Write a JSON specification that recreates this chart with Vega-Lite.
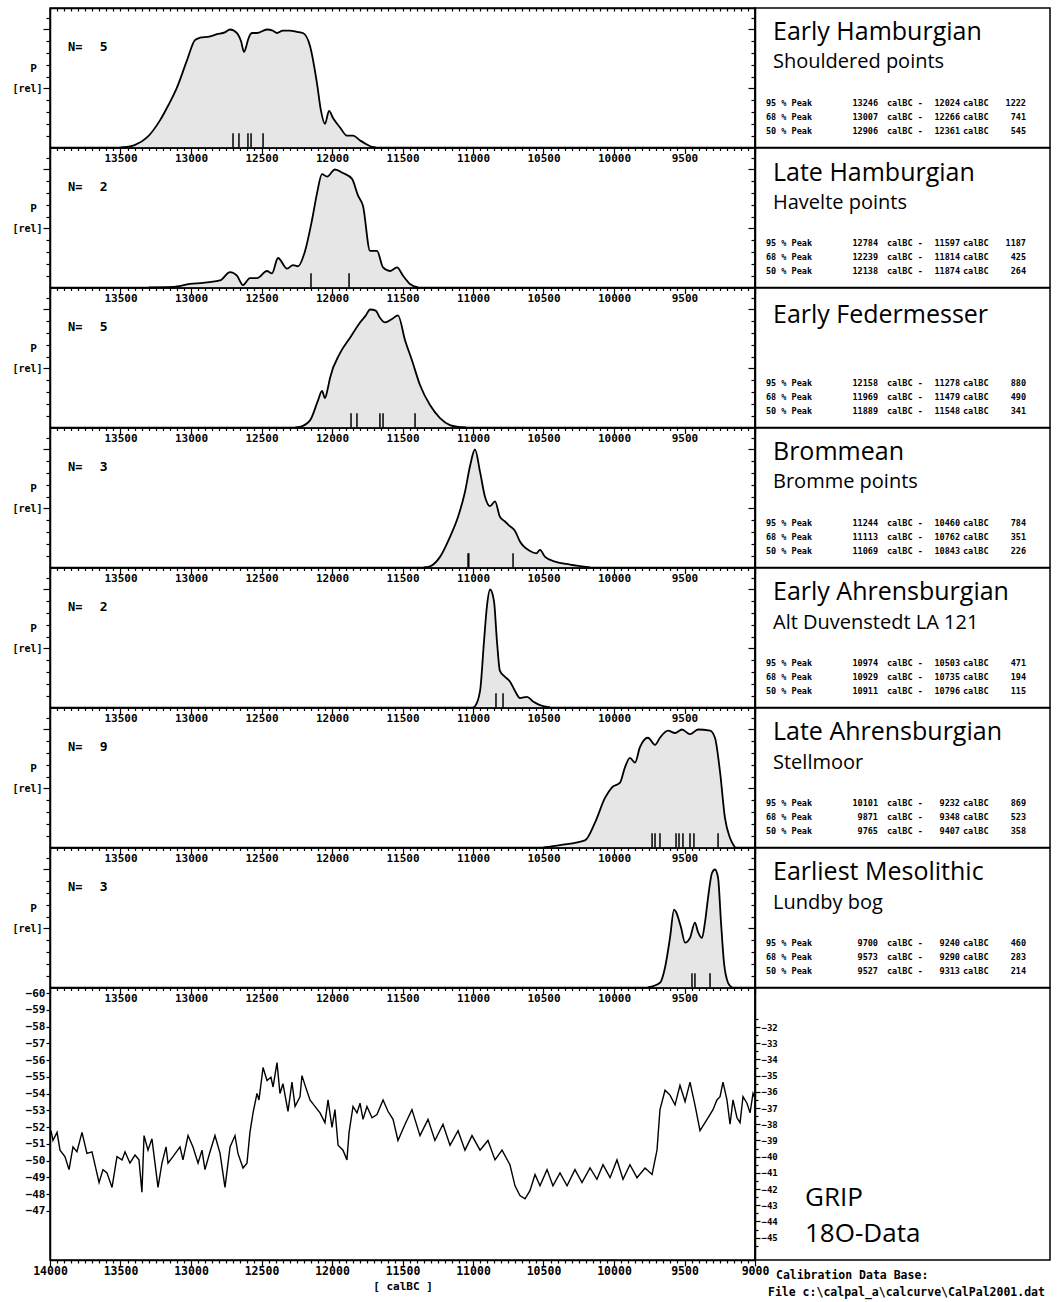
{
"$schema": "https://vega.github.io/schema/vega-lite/v6.json",
"background": "white",
"padding": {"left": 11, "top": 6, "right": 5, "bottom": 5},
"config": {
 "view": {"stroke": "black", "strokeWidth": 1.5},
 "axis": {"domainColor": "black", "domainWidth": 1.5, "tickColor": "black", "tickWidth": 1.2, "labelColor": "black", "labelFont": "DejaVu Sans Mono", "labelFontWeight": "bold", "grid": false, "titleColor": "black"}
},
"datasets": {
 "curves": [
  {"panel":"p1","year":13500,"p":0},{"panel":"p1","year":13454,"p":0.005},{"panel":"p1","year":13400,"p":0.02},{"panel":"p1","year":13312,"p":0.085},{"panel":"p1","year":13220,"p":0.23},{"panel":"p1","year":13160,"p":0.36},{"panel":"p1","year":13099,"p":0.51},{"panel":"p1","year":13028,"p":0.74},{"panel":"p1","year":12972,"p":0.91},{"panel":"p1","year":12936,"p":0.93},{"panel":"p1","year":12870,"p":0.94},{"panel":"p1","year":12816,"p":0.96},{"panel":"p1","year":12760,"p":0.975},{"panel":"p1","year":12723,"p":1.0},{"panel":"p1","year":12674,"p":0.97},{"panel":"p1","year":12645,"p":0.9},{"panel":"p1","year":12624,"p":0.81},{"panel":"p1","year":12605,"p":0.87},{"panel":"p1","year":12596,"p":0.91},{"panel":"p1","year":12567,"p":0.97},{"panel":"p1","year":12532,"p":0.97},{"panel":"p1","year":12461,"p":1.0},{"panel":"p1","year":12420,"p":0.99},{"panel":"p1","year":12390,"p":0.97},{"panel":"p1","year":12348,"p":0.99},{"panel":"p1","year":12300,"p":0.99},{"panel":"p1","year":12248,"p":0.98},{"panel":"p1","year":12206,"p":0.97},{"panel":"p1","year":12156,"p":0.86},{"panel":"p1","year":12106,"p":0.54},{"panel":"p1","year":12078,"p":0.31},{"panel":"p1","year":12050,"p":0.2},{"panel":"p1","year":12021,"p":0.31},{"panel":"p1","year":11993,"p":0.25},{"panel":"p1","year":11943,"p":0.17},{"panel":"p1","year":11894,"p":0.10},{"panel":"p1","year":11851,"p":0.10},{"panel":"p1","year":11801,"p":0.06},{"panel":"p1","year":11752,"p":0.025},{"panel":"p1","year":11716,"p":0.005},{"panel":"p1","year":11690,"p":0},
  {"panel":"p2","year":13300,"p":0},{"panel":"p2","year":13128,"p":0.005},{"panel":"p2","year":13007,"p":0.03},{"panel":"p2","year":12915,"p":0.04},{"panel":"p2","year":12794,"p":0.06},{"panel":"p2","year":12723,"p":0.13},{"panel":"p2","year":12674,"p":0.10},{"panel":"p2","year":12631,"p":0.02},{"panel":"p2","year":12582,"p":0.08},{"panel":"p2","year":12532,"p":0.08},{"panel":"p2","year":12461,"p":0.14},{"panel":"p2","year":12426,"p":0.12},{"panel":"p2","year":12383,"p":0.25},{"panel":"p2","year":12319,"p":0.16},{"panel":"p2","year":12277,"p":0.19},{"panel":"p2","year":12241,"p":0.18},{"panel":"p2","year":12191,"p":0.31},{"panel":"p2","year":12142,"p":0.57},{"panel":"p2","year":12106,"p":0.80},{"panel":"p2","year":12071,"p":0.96},{"panel":"p2","year":12035,"p":0.94},{"panel":"p2","year":11979,"p":1.0},{"panel":"p2","year":11922,"p":0.97},{"panel":"p2","year":11858,"p":0.92},{"panel":"p2","year":11816,"p":0.78},{"panel":"p2","year":11780,"p":0.69},{"panel":"p2","year":11730,"p":0.31},{"panel":"p2","year":11681,"p":0.31},{"panel":"p2","year":11638,"p":0.17},{"panel":"p2","year":11589,"p":0.14},{"panel":"p2","year":11539,"p":0.17},{"panel":"p2","year":11496,"p":0.10},{"panel":"p2","year":11447,"p":0.03},{"panel":"p2","year":11390,"p":0},
  {"panel":"p3","year":12260,"p":0},{"panel":"p3","year":12227,"p":0.005},{"panel":"p3","year":12156,"p":0.06},{"panel":"p3","year":12099,"p":0.23},{"panel":"p3","year":12071,"p":0.31},{"panel":"p3","year":12050,"p":0.25},{"panel":"p3","year":12030,"p":0.33},{"panel":"p3","year":12014,"p":0.42},{"panel":"p3","year":11943,"p":0.63},{"panel":"p3","year":11872,"p":0.76},{"panel":"p3","year":11801,"p":0.89},{"panel":"p3","year":11760,"p":0.95},{"panel":"p3","year":11730,"p":1.0},{"panel":"p3","year":11690,"p":0.99},{"panel":"p3","year":11660,"p":0.93},{"panel":"p3","year":11624,"p":0.89},{"panel":"p3","year":11574,"p":0.92},{"panel":"p3","year":11532,"p":0.95},{"panel":"p3","year":11482,"p":0.74},{"panel":"p3","year":11433,"p":0.57},{"panel":"p3","year":11376,"p":0.36},{"panel":"p3","year":11305,"p":0.19},{"panel":"p3","year":11234,"p":0.08},{"panel":"p3","year":11163,"p":0.02},{"panel":"p3","year":11106,"p":0.005},{"panel":"p3","year":11050,"p":0},
  {"panel":"p4","year":11350,"p":0},{"panel":"p4","year":11305,"p":0.01},{"panel":"p4","year":11234,"p":0.09},{"panel":"p4","year":11163,"p":0.26},{"panel":"p4","year":11106,"p":0.43},{"panel":"p4","year":11057,"p":0.64},{"panel":"p4","year":11021,"p":0.86},{"panel":"p4","year":10986,"p":1.0},{"panel":"p4","year":10950,"p":0.81},{"panel":"p4","year":10915,"p":0.60},{"panel":"p4","year":10879,"p":0.52},{"panel":"p4","year":10844,"p":0.56},{"panel":"p4","year":10809,"p":0.43},{"panel":"p4","year":10773,"p":0.39},{"panel":"p4","year":10738,"p":0.35},{"panel":"p4","year":10702,"p":0.31},{"panel":"p4","year":10667,"p":0.22},{"panel":"p4","year":10596,"p":0.14},{"panel":"p4","year":10550,"p":0.12},{"panel":"p4","year":10525,"p":0.15},{"panel":"p4","year":10489,"p":0.09},{"panel":"p4","year":10418,"p":0.05},{"panel":"p4","year":10312,"p":0.025},{"panel":"p4","year":10170,"p":0},
  {"panel":"p5","year":11000,"p":0},{"panel":"p5","year":10986,"p":0.01},{"panel":"p5","year":10950,"p":0.14},{"panel":"p5","year":10922,"p":0.56},{"panel":"p5","year":10901,"p":0.86},{"panel":"p5","year":10879,"p":1.0},{"panel":"p5","year":10851,"p":0.90},{"panel":"p5","year":10830,"p":0.56},{"panel":"p5","year":10809,"p":0.31},{"panel":"p5","year":10773,"p":0.26},{"panel":"p5","year":10738,"p":0.22},{"panel":"p5","year":10702,"p":0.14},{"panel":"p5","year":10667,"p":0.08},{"panel":"p5","year":10617,"p":0.09},{"panel":"p5","year":10574,"p":0.05},{"panel":"p5","year":10525,"p":0.02},{"panel":"p5","year":10454,"p":0},
  {"panel":"p6","year":10500,"p":0},{"panel":"p6","year":10383,"p":0.02},{"panel":"p6","year":10206,"p":0.06},{"panel":"p6","year":10135,"p":0.21},{"panel":"p6","year":10064,"p":0.42},{"panel":"p6","year":10014,"p":0.51},{"panel":"p6","year":9957,"p":0.55},{"panel":"p6","year":9922,"p":0.68},{"panel":"p6","year":9887,"p":0.76},{"panel":"p6","year":9851,"p":0.72},{"panel":"p6","year":9816,"p":0.85},{"panel":"p6","year":9759,"p":0.93},{"panel":"p6","year":9709,"p":0.87},{"panel":"p6","year":9674,"p":0.93},{"panel":"p6","year":9617,"p":0.99},{"panel":"p6","year":9567,"p":0.97},{"panel":"p6","year":9518,"p":1.0},{"panel":"p6","year":9461,"p":0.96},{"panel":"p6","year":9404,"p":1.0},{"panel":"p6","year":9319,"p":0.99},{"panel":"p6","year":9284,"p":0.93},{"panel":"p6","year":9248,"p":0.64},{"panel":"p6","year":9213,"p":0.25},{"panel":"p6","year":9177,"p":0.08},{"panel":"p6","year":9142,"p":0},
  {"panel":"p7","year":9760,"p":0},{"panel":"p7","year":9674,"p":0.04},{"panel":"p7","year":9638,"p":0.17},{"panel":"p7","year":9603,"p":0.42},{"panel":"p7","year":9574,"p":0.66},{"panel":"p7","year":9560,"p":0.64},{"panel":"p7","year":9525,"p":0.51},{"panel":"p7","year":9496,"p":0.38},{"panel":"p7","year":9461,"p":0.42},{"panel":"p7","year":9426,"p":0.55},{"panel":"p7","year":9404,"p":0.47},{"panel":"p7","year":9376,"p":0.42},{"panel":"p7","year":9355,"p":0.55},{"panel":"p7","year":9333,"p":0.76},{"panel":"p7","year":9305,"p":0.97},{"panel":"p7","year":9284,"p":1.0},{"panel":"p7","year":9262,"p":0.93},{"panel":"p7","year":9241,"p":0.55},{"panel":"p7","year":9220,"p":0.21},{"panel":"p7","year":9191,"p":0.04},{"panel":"p7","year":9163,"p":0}
 ],
 "dates": [
  {"panel":"p1","year":12702},{"panel":"p1","year":12660},{"panel":"p1","year":12596},{"panel":"p1","year":12574},{"panel":"p1","year":12489},
  {"panel":"p2","year":12149},{"panel":"p2","year":11879},
  {"panel":"p3","year":11865},{"panel":"p3","year":11823},{"panel":"p3","year":11660},{"panel":"p3","year":11638},{"panel":"p3","year":11411},
  {"panel":"p4","year":11035},{"panel":"p4","year":11030},{"panel":"p4","year":10716},
  {"panel":"p5","year":10837},{"panel":"p5","year":10787},
  {"panel":"p6","year":9730},{"panel":"p6","year":9709},{"panel":"p6","year":9674},{"panel":"p6","year":9560},{"panel":"p6","year":9539},{"panel":"p6","year":9511},{"panel":"p6","year":9461},{"panel":"p6","year":9433},{"panel":"p6","year":9262},
  {"panel":"p7","year":9447},{"panel":"p7","year":9426},{"panel":"p7","year":9319}
 ],
 "groups": [
  {"panel":"p1","n":5},{"panel":"p2","n":2},{"panel":"p3","n":5},{"panel":"p4","n":3},{"panel":"p5","n":2},{"panel":"p6","n":9},{"panel":"p7","n":3}
 ],
 "labels": [
  {"panel":"p1","kind":"title","text":"Early Hamburgian"},{"panel":"p1","kind":"subtitle","text":"Shouldered points"},
  {"panel":"p2","kind":"title","text":"Late Hamburgian"},{"panel":"p2","kind":"subtitle","text":"Havelte points"},
  {"panel":"p3","kind":"title","text":"Early Federmesser"},
  {"panel":"p4","kind":"title","text":"Brommean"},{"panel":"p4","kind":"subtitle","text":"Bromme points"},
  {"panel":"p5","kind":"title","text":"Early Ahrensburgian"},{"panel":"p5","kind":"subtitle","text":"Alt Duvenstedt LA 121"},
  {"panel":"p6","kind":"title","text":"Late Ahrensburgian"},{"panel":"p6","kind":"subtitle","text":"Stellmoor"},
  {"panel":"p7","kind":"title","text":"Earliest Mesolithic"},{"panel":"p7","kind":"subtitle","text":"Lundby bog"},
  {"panel":"grip","kind":"g1","text":"GRIP"},{"panel":"grip","kind":"g2","text":"18O-Data"},
  {"panel":"grip","kind":"cal1","text":"Calibration Data Base:"},{"panel":"grip","kind":"cal2","text":"File c:\\calpal_a\\calcurve\\CalPal2001.dat"}
 ],
 "stats": [
  {"panel":"p1","level":"95 % Peak","from":13246,"to":12024,"span":1222},{"panel":"p1","level":"68 % Peak","from":13007,"to":12266,"span":741},{"panel":"p1","level":"50 % Peak","from":12906,"to":12361,"span":545},
  {"panel":"p2","level":"95 % Peak","from":12784,"to":11597,"span":1187},{"panel":"p2","level":"68 % Peak","from":12239,"to":11814,"span":425},{"panel":"p2","level":"50 % Peak","from":12138,"to":11874,"span":264},
  {"panel":"p3","level":"95 % Peak","from":12158,"to":11278,"span":880},{"panel":"p3","level":"68 % Peak","from":11969,"to":11479,"span":490},{"panel":"p3","level":"50 % Peak","from":11889,"to":11548,"span":341},
  {"panel":"p4","level":"95 % Peak","from":11244,"to":10460,"span":784},{"panel":"p4","level":"68 % Peak","from":11113,"to":10762,"span":351},{"panel":"p4","level":"50 % Peak","from":11069,"to":10843,"span":226},
  {"panel":"p5","level":"95 % Peak","from":10974,"to":10503,"span":471},{"panel":"p5","level":"68 % Peak","from":10929,"to":10735,"span":194},{"panel":"p5","level":"50 % Peak","from":10911,"to":10796,"span":115},
  {"panel":"p6","level":"95 % Peak","from":10101,"to":9232,"span":869},{"panel":"p6","level":"68 % Peak","from":9871,"to":9348,"span":523},{"panel":"p6","level":"50 % Peak","from":9765,"to":9407,"span":358},
  {"panel":"p7","level":"95 % Peak","from":9700,"to":9240,"span":460},{"panel":"p7","level":"68 % Peak","from":9573,"to":9290,"span":283},{"panel":"p7","level":"50 % Peak","from":9527,"to":9313,"span":214}
 ],
 "grip": [
  {"year":13993,"d18O":-38.4},{"year":13979,"d18O":-39.0},{"year":13950,"d18O":-38.5},{"year":13929,"d18O":-39.6},{"year":13894,"d18O":-40.0},{"year":13865,"d18O":-40.8},{"year":13837,"d18O":-39.4},{"year":13809,"d18O":-39.7},{"year":13773,"d18O":-38.5},{"year":13738,"d18O":-39.8},{"year":13702,"d18O":-39.7},{"year":13652,"d18O":-41.6},{"year":13624,"d18O":-40.8},{"year":13596,"d18O":-41.0},{"year":13560,"d18O":-41.9},{"year":13525,"d18O":-40.0},{"year":13489,"d18O":-40.2},{"year":13468,"d18O":-39.7},{"year":13433,"d18O":-40.4},{"year":13397,"d18O":-39.9},{"year":13369,"d18O":-40.2},{"year":13348,"d18O":-42.2},{"year":13333,"d18O":-38.7},{"year":13305,"d18O":-39.6},{"year":13277,"d18O":-38.9},{"year":13234,"d18O":-41.9},{"year":13206,"d18O":-40.4},{"year":13177,"d18O":-39.4},{"year":13163,"d18O":-40.4},{"year":13128,"d18O":-40.0},{"year":13078,"d18O":-39.4},{"year":13057,"d18O":-40.2},{"year":13021,"d18O":-38.7},{"year":12986,"d18O":-39.4},{"year":12950,"d18O":-40.4},{"year":12922,"d18O":-39.6},{"year":12901,"d18O":-40.8},{"year":12865,"d18O":-39.7},{"year":12830,"d18O":-38.7},{"year":12794,"d18O":-39.8},{"year":12759,"d18O":-41.9},{"year":12723,"d18O":-39.4},{"year":12688,"d18O":-38.7},{"year":12667,"d18O":-39.8},{"year":12631,"d18O":-40.7},{"year":12603,"d18O":-40.4},{"year":12582,"d18O":-38.5},{"year":12560,"d18O":-37.3},{"year":12532,"d18O":-36.1},{"year":12518,"d18O":-36.5},{"year":12489,"d18O":-34.5},{"year":12461,"d18O":-35.3},{"year":12433,"d18O":-35.1},{"year":12418,"d18O":-35.7},{"year":12390,"d18O":-34.2},{"year":12369,"d18O":-36.1},{"year":12348,"d18O":-35.5},{"year":12312,"d18O":-37.2},{"year":12284,"d18O":-35.4},{"year":12262,"d18O":-36.9},{"year":12227,"d18O":-36.3},{"year":12213,"d18O":-35.0},{"year":12191,"d18O":-35.6},{"year":12156,"d18O":-36.5},{"year":12121,"d18O":-36.9},{"year":12085,"d18O":-37.3},{"year":12050,"d18O":-37.9},{"year":12028,"d18O":-36.5},{"year":12000,"d18O":-38.2},{"year":11979,"d18O":-37.1},{"year":11957,"d18O":-39.3},{"year":11922,"d18O":-39.6},{"year":11894,"d18O":-40.2},{"year":11879,"d18O":-38.5},{"year":11851,"d18O":-36.9},{"year":11823,"d18O":-37.3},{"year":11801,"d18O":-36.7},{"year":11780,"d18O":-37.7},{"year":11752,"d18O":-36.9},{"year":11716,"d18O":-37.6},{"year":11681,"d18O":-37.4},{"year":11638,"d18O":-36.5},{"year":11603,"d18O":-37.2},{"year":11567,"d18O":-37.7},{"year":11532,"d18O":-39.0},{"year":11482,"d18O":-38.0},{"year":11433,"d18O":-37.1},{"year":11376,"d18O":-38.7},{"year":11319,"d18O":-37.7},{"year":11270,"d18O":-39.0},{"year":11213,"d18O":-38.0},{"year":11163,"d18O":-39.3},{"year":11106,"d18O":-38.4},{"year":11057,"d18O":-39.6},{"year":11007,"d18O":-38.7},{"year":10950,"d18O":-39.6},{"year":10894,"d18O":-39.0},{"year":10844,"d18O":-40.2},{"year":10794,"d18O":-39.6},{"year":10738,"d18O":-40.5},{"year":10702,"d18O":-41.8},{"year":10667,"d18O":-42.4},{"year":10631,"d18O":-42.6},{"year":10596,"d18O":-42.1},{"year":10560,"d18O":-41.1},{"year":10525,"d18O":-41.8},{"year":10475,"d18O":-40.8},{"year":10433,"d18O":-41.8},{"year":10383,"d18O":-41.0},{"year":10333,"d18O":-41.8},{"year":10277,"d18O":-40.8},{"year":10227,"d18O":-41.6},{"year":10170,"d18O":-40.7},{"year":10121,"d18O":-41.4},{"year":10078,"d18O":-40.5},{"year":10028,"d18O":-41.3},{"year":9979,"d18O":-40.2},{"year":9936,"d18O":-41.4},{"year":9887,"d18O":-40.5},{"year":9837,"d18O":-41.3},{"year":9780,"d18O":-40.7},{"year":9730,"d18O":-41.1},{"year":9695,"d18O":-39.6},{"year":9674,"d18O":-37.1},{"year":9638,"d18O":-35.9},{"year":9603,"d18O":-36.2},{"year":9567,"d18O":-36.8},{"year":9532,"d18O":-35.6},{"year":9496,"d18O":-36.6},{"year":9461,"d18O":-35.4},{"year":9426,"d18O":-36.8},{"year":9390,"d18O":-38.4},{"year":9340,"d18O":-37.7},{"year":9298,"d18O":-37.1},{"year":9270,"d18O":-36.5},{"year":9248,"d18O":-36.3},{"year":9227,"d18O":-35.4},{"year":9199,"d18O":-36.5},{"year":9177,"d18O":-38.0},{"year":9156,"d18O":-36.5},{"year":9128,"d18O":-37.6},{"year":9106,"d18O":-37.9},{"year":9085,"d18O":-36.3},{"year":9057,"d18O":-36.7},{"year":9035,"d18O":-37.3},{"year":9014,"d18O":-36.1},{"year":9000,"d18O":-36.4}
 ]
},
"columns": 2,
"spacing": 0,
"bounds": "flush",
"align": "each",
"concat": [
 {"width": 705, "height": 139.5,
  "layer": [
   {"data": {"name": "curves"}, "transform": [{"filter": "datum.panel == 'p1'"}], "mark": {"type": "area", "color": "#e6e6e6", "interpolate": "monotone"},
    "encoding": {"x": {"field": "year", "type": "quantitative", "scale": {"domain": [9000, 14000], "reverse": true, "nice": false, "zero": false}, "axis": {"orient": "bottom", "tickCount": 100, "format": "d", "labelExpr": "datum.value % 500 == 0 && datum.value > 9000 && datum.value < 14000 ? datum.label : ''", "tickSize": {"condition": {"test": "datum.value % 500 == 0", "value": 6}, "value": 3}, "labelOverlap": false, "labelFlush": false, "labelBound": false, "labelPadding": -1, "labelFontSize": 11, "title": null}},
     "y": {"field": "p", "type": "quantitative", "scale": {"domain": [0, 1.182], "nice": false, "zero": false}, "axis": {"orient": "left", "values": [0.1,0.2,0.3,0.4,0.5,0.6,0.7,0.8,0.9,1,1.1], "labelExpr": "datum.value == 0.5 ? '[rel]' : ''", "tickSize": {"condition": {"test": "datum.value == 0.5 || datum.value == 1", "value": 7}, "value": 4}, "labelPadding": 1, "labelFontSize": 10, "labelOverlap": false, "title": "P", "titleAngle": 0, "titleAlign": "center", "titleBaseline": "middle", "titleX": -17, "titleY": 60, "titleFont": "DejaVu Sans Mono", "titleFontWeight": "bold", "titleFontSize": 11}}}},
   {"data": {"name": "curves"}, "transform": [{"filter": "datum.panel == 'p1'"}], "mark": {"type": "line", "color": "black", "strokeWidth": 1.8, "interpolate": "monotone"},
    "encoding": {"x": {"field": "year", "type": "quantitative", "axis": {"orient": "top", "tickCount": 100, "labels": false, "tickSize": -3, "title": null}},
     "y": {"field": "p", "type": "quantitative", "axis": {"orient": "right", "values": [0.1,0.2,0.3,0.4,0.5,0.6,0.7,0.8,0.9,1,1.1], "labels": false, "tickSize": {"condition": {"test": "datum.value == 0.5 || datum.value == 1", "value": -7}, "value": -4}, "title": null}}}},
   {"data": {"name": "dates"}, "transform": [{"filter": "datum.panel == 'p1'"}], "mark": {"type": "rule", "color": "black", "strokeWidth": 1.5},
    "encoding": {"x": {"field": "year", "type": "quantitative", "axis": null}, "y": {"datum": 0, "axis": null}, "y2": {"datum": 0.12}}},
   {"data": {"name": "groups"}, "transform": [{"filter": "datum.panel == 'p1'"}], "mark": {"type": "text", "font": "DejaVu Sans Mono", "fontWeight": "bold", "fontSize": 12, "align": "left", "baseline": "middle"},
    "encoding": {"x": {"datum": 13872, "axis": null}, "y": {"datum": 0.85, "axis": null}, "text": {"value": "N="}}},
   {"data": {"name": "groups"}, "transform": [{"filter": "datum.panel == 'p1'"}], "mark": {"type": "text", "font": "DejaVu Sans Mono", "fontWeight": "bold", "fontSize": 13, "align": "center", "baseline": "middle"},
    "encoding": {"x": {"datum": 13620, "axis": null}, "y": {"datum": 0.85, "axis": null}, "text": {"field": "n", "type": "quantitative", "format": "d"}}}
  ],
  "resolve": {"axis": {"x": "independent", "y": "independent"}}},
 {"width": 295, "height": 139.5,
  "layer": [
   {"data": {"name": "labels"}, "transform": [{"filter": "datum.panel == 'p1'"}], "mark": {"type": "text", "font": "Open Sans", "align": "left", "baseline": "alphabetic", "color": "black"},
    "encoding": {"x": {"datum": 18, "type": "quantitative", "scale": {"domain": [0, 295], "nice": false, "zero": false}, "axis": null}, "y": {"field": "kind", "type": "ordinal", "scale": {"type": "point", "domain": ["title", "subtitle"], "range": [32, 60], "padding": 0}, "axis": null}, "size": {"condition": {"test": "datum.kind == 'title'", "value": 25}, "value": 20}, "text": {"field": "text"}}},
   {"data": {"name": "stats"}, "transform": [{"filter": "datum.panel == 'p1'"}], "mark": {"type": "text", "font": "DejaVu Sans Mono", "fontWeight": "bold", "fontSize": 8.5, "align": "left", "baseline": "middle"},
    "encoding": {"x": {"datum": 11, "axis": null}, "y": {"field": "level", "type": "ordinal", "scale": {"type": "point", "domain": ["95 % Peak", "68 % Peak", "50 % Peak"], "range": [95, 123], "padding": 0}, "axis": null}, "text": {"field": "level"}}},
   {"data": {"name": "stats"}, "transform": [{"filter": "datum.panel == 'p1'"}], "mark": {"type": "text", "font": "DejaVu Sans Mono", "fontWeight": "bold", "fontSize": 8.5, "align": "right", "baseline": "middle"},
    "encoding": {"x": {"datum": 123, "axis": null}, "y": {"field": "level", "type": "ordinal", "scale": {"type": "point", "domain": ["95 % Peak", "68 % Peak", "50 % Peak"], "range": [95, 123], "padding": 0}, "axis": null}, "text": {"field": "from", "type": "quantitative", "format": "d"}}},
   {"data": {"name": "stats"}, "transform": [{"filter": "datum.panel == 'p1'"}], "mark": {"type": "text", "font": "DejaVu Sans Mono", "fontWeight": "bold", "fontSize": 8.5, "align": "left", "baseline": "middle"},
    "encoding": {"x": {"datum": 132, "axis": null}, "y": {"field": "level", "type": "ordinal", "scale": {"type": "point", "domain": ["95 % Peak", "68 % Peak", "50 % Peak"], "range": [95, 123], "padding": 0}, "axis": null}, "text": {"value": "calBC  -"}}},
   {"data": {"name": "stats"}, "transform": [{"filter": "datum.panel == 'p1'"}], "mark": {"type": "text", "font": "DejaVu Sans Mono", "fontWeight": "bold", "fontSize": 8.5, "align": "right", "baseline": "middle"},
    "encoding": {"x": {"datum": 205, "axis": null}, "y": {"field": "level", "type": "ordinal", "scale": {"type": "point", "domain": ["95 % Peak", "68 % Peak", "50 % Peak"], "range": [95, 123], "padding": 0}, "axis": null}, "text": {"field": "to", "type": "quantitative", "format": "d"}}},
   {"data": {"name": "stats"}, "transform": [{"filter": "datum.panel == 'p1'"}], "mark": {"type": "text", "font": "DejaVu Sans Mono", "fontWeight": "bold", "fontSize": 8.5, "align": "left", "baseline": "middle"},
    "encoding": {"x": {"datum": 208, "axis": null}, "y": {"field": "level", "type": "ordinal", "scale": {"type": "point", "domain": ["95 % Peak", "68 % Peak", "50 % Peak"], "range": [95, 123], "padding": 0}, "axis": null}, "text": {"value": "calBC"}}},
   {"data": {"name": "stats"}, "transform": [{"filter": "datum.panel == 'p1'"}], "mark": {"type": "text", "font": "DejaVu Sans Mono", "fontWeight": "bold", "fontSize": 8.5, "align": "right", "baseline": "middle"},
    "encoding": {"x": {"datum": 271, "axis": null}, "y": {"field": "level", "type": "ordinal", "scale": {"type": "point", "domain": ["95 % Peak", "68 % Peak", "50 % Peak"], "range": [95, 123], "padding": 0}, "axis": null}, "text": {"field": "span", "type": "quantitative", "format": "d"}}}
  ],
  "resolve": {"scale": {"y": "independent"}}},

 {"width": 705, "height": 139.5,
  "layer": [
   {"data": {"name": "curves"}, "transform": [{"filter": "datum.panel == 'p2'"}], "mark": {"type": "area", "color": "#e6e6e6", "interpolate": "monotone"},
    "encoding": {"x": {"field": "year", "type": "quantitative", "scale": {"domain": [9000, 14000], "reverse": true, "nice": false, "zero": false}, "axis": {"orient": "bottom", "tickCount": 100, "format": "d", "labelExpr": "datum.value % 500 == 0 && datum.value > 9000 && datum.value < 14000 ? datum.label : ''", "tickSize": {"condition": {"test": "datum.value % 500 == 0", "value": 6}, "value": 3}, "labelOverlap": false, "labelFlush": false, "labelBound": false, "labelPadding": -1, "labelFontSize": 11, "title": null}},
     "y": {"field": "p", "type": "quantitative", "scale": {"domain": [0, 1.182], "nice": false, "zero": false}, "axis": {"orient": "left", "values": [0.1,0.2,0.3,0.4,0.5,0.6,0.7,0.8,0.9,1,1.1], "labelExpr": "datum.value == 0.5 ? '[rel]' : ''", "tickSize": {"condition": {"test": "datum.value == 0.5 || datum.value == 1", "value": 7}, "value": 4}, "labelPadding": 1, "labelFontSize": 10, "labelOverlap": false, "title": "P", "titleAngle": 0, "titleAlign": "center", "titleBaseline": "middle", "titleX": -17, "titleY": 60, "titleFont": "DejaVu Sans Mono", "titleFontWeight": "bold", "titleFontSize": 11}}}},
   {"data": {"name": "curves"}, "transform": [{"filter": "datum.panel == 'p2'"}], "mark": {"type": "line", "color": "black", "strokeWidth": 1.8, "interpolate": "monotone"},
    "encoding": {"x": {"field": "year", "type": "quantitative", "axis": null},
     "y": {"field": "p", "type": "quantitative", "axis": {"orient": "right", "values": [0.1,0.2,0.3,0.4,0.5,0.6,0.7,0.8,0.9,1,1.1], "labels": false, "tickSize": {"condition": {"test": "datum.value == 0.5 || datum.value == 1", "value": -7}, "value": -4}, "title": null}}}},
   {"data": {"name": "dates"}, "transform": [{"filter": "datum.panel == 'p2'"}], "mark": {"type": "rule", "color": "black", "strokeWidth": 1.5},
    "encoding": {"x": {"field": "year", "type": "quantitative", "axis": null}, "y": {"datum": 0, "axis": null}, "y2": {"datum": 0.12}}},
   {"data": {"name": "groups"}, "transform": [{"filter": "datum.panel == 'p2'"}], "mark": {"type": "text", "font": "DejaVu Sans Mono", "fontWeight": "bold", "fontSize": 12, "align": "left", "baseline": "middle"},
    "encoding": {"x": {"datum": 13872, "axis": null}, "y": {"datum": 0.85, "axis": null}, "text": {"value": "N="}}},
   {"data": {"name": "groups"}, "transform": [{"filter": "datum.panel == 'p2'"}], "mark": {"type": "text", "font": "DejaVu Sans Mono", "fontWeight": "bold", "fontSize": 13, "align": "center", "baseline": "middle"},
    "encoding": {"x": {"datum": 13620, "axis": null}, "y": {"datum": 0.85, "axis": null}, "text": {"field": "n", "type": "quantitative", "format": "d"}}}
  ],
  "resolve": {"axis": {"x": "independent", "y": "independent"}}},
 {"width": 295, "height": 139.5,
  "layer": [
   {"data": {"name": "labels"}, "transform": [{"filter": "datum.panel == 'p2'"}], "mark": {"type": "text", "font": "Open Sans", "align": "left", "baseline": "alphabetic", "color": "black"},
    "encoding": {"x": {"datum": 18, "type": "quantitative", "scale": {"domain": [0, 295], "nice": false, "zero": false}, "axis": null}, "y": {"field": "kind", "type": "ordinal", "scale": {"type": "point", "domain": ["title", "subtitle"], "range": [33, 61], "padding": 0}, "axis": null}, "size": {"condition": {"test": "datum.kind == 'title'", "value": 25}, "value": 20}, "text": {"field": "text"}}},
   {"data": {"name": "stats"}, "transform": [{"filter": "datum.panel == 'p2'"}], "mark": {"type": "text", "font": "DejaVu Sans Mono", "fontWeight": "bold", "fontSize": 8.5, "align": "left", "baseline": "middle"},
    "encoding": {"x": {"datum": 11, "axis": null}, "y": {"field": "level", "type": "ordinal", "scale": {"type": "point", "domain": ["95 % Peak", "68 % Peak", "50 % Peak"], "range": [95, 123], "padding": 0}, "axis": null}, "text": {"field": "level"}}},
   {"data": {"name": "stats"}, "transform": [{"filter": "datum.panel == 'p2'"}], "mark": {"type": "text", "font": "DejaVu Sans Mono", "fontWeight": "bold", "fontSize": 8.5, "align": "right", "baseline": "middle"},
    "encoding": {"x": {"datum": 123, "axis": null}, "y": {"field": "level", "type": "ordinal", "scale": {"type": "point", "domain": ["95 % Peak", "68 % Peak", "50 % Peak"], "range": [95, 123], "padding": 0}, "axis": null}, "text": {"field": "from", "type": "quantitative", "format": "d"}}},
   {"data": {"name": "stats"}, "transform": [{"filter": "datum.panel == 'p2'"}], "mark": {"type": "text", "font": "DejaVu Sans Mono", "fontWeight": "bold", "fontSize": 8.5, "align": "left", "baseline": "middle"},
    "encoding": {"x": {"datum": 132, "axis": null}, "y": {"field": "level", "type": "ordinal", "scale": {"type": "point", "domain": ["95 % Peak", "68 % Peak", "50 % Peak"], "range": [95, 123], "padding": 0}, "axis": null}, "text": {"value": "calBC  -"}}},
   {"data": {"name": "stats"}, "transform": [{"filter": "datum.panel == 'p2'"}], "mark": {"type": "text", "font": "DejaVu Sans Mono", "fontWeight": "bold", "fontSize": 8.5, "align": "right", "baseline": "middle"},
    "encoding": {"x": {"datum": 205, "axis": null}, "y": {"field": "level", "type": "ordinal", "scale": {"type": "point", "domain": ["95 % Peak", "68 % Peak", "50 % Peak"], "range": [95, 123], "padding": 0}, "axis": null}, "text": {"field": "to", "type": "quantitative", "format": "d"}}},
   {"data": {"name": "stats"}, "transform": [{"filter": "datum.panel == 'p2'"}], "mark": {"type": "text", "font": "DejaVu Sans Mono", "fontWeight": "bold", "fontSize": 8.5, "align": "left", "baseline": "middle"},
    "encoding": {"x": {"datum": 208, "axis": null}, "y": {"field": "level", "type": "ordinal", "scale": {"type": "point", "domain": ["95 % Peak", "68 % Peak", "50 % Peak"], "range": [95, 123], "padding": 0}, "axis": null}, "text": {"value": "calBC"}}},
   {"data": {"name": "stats"}, "transform": [{"filter": "datum.panel == 'p2'"}], "mark": {"type": "text", "font": "DejaVu Sans Mono", "fontWeight": "bold", "fontSize": 8.5, "align": "right", "baseline": "middle"},
    "encoding": {"x": {"datum": 271, "axis": null}, "y": {"field": "level", "type": "ordinal", "scale": {"type": "point", "domain": ["95 % Peak", "68 % Peak", "50 % Peak"], "range": [95, 123], "padding": 0}, "axis": null}, "text": {"field": "span", "type": "quantitative", "format": "d"}}}
  ],
  "resolve": {"scale": {"y": "independent"}}},

 {"width": 705, "height": 139.5,
  "layer": [
   {"data": {"name": "curves"}, "transform": [{"filter": "datum.panel == 'p3'"}], "mark": {"type": "area", "color": "#e6e6e6", "interpolate": "monotone"},
    "encoding": {"x": {"field": "year", "type": "quantitative", "scale": {"domain": [9000, 14000], "reverse": true, "nice": false, "zero": false}, "axis": {"orient": "bottom", "tickCount": 100, "format": "d", "labelExpr": "datum.value % 500 == 0 && datum.value > 9000 && datum.value < 14000 ? datum.label : ''", "tickSize": {"condition": {"test": "datum.value % 500 == 0", "value": 6}, "value": 3}, "labelOverlap": false, "labelFlush": false, "labelBound": false, "labelPadding": -1, "labelFontSize": 11, "title": null}},
     "y": {"field": "p", "type": "quantitative", "scale": {"domain": [0, 1.182], "nice": false, "zero": false}, "axis": {"orient": "left", "values": [0.1,0.2,0.3,0.4,0.5,0.6,0.7,0.8,0.9,1,1.1], "labelExpr": "datum.value == 0.5 ? '[rel]' : ''", "tickSize": {"condition": {"test": "datum.value == 0.5 || datum.value == 1", "value": 7}, "value": 4}, "labelPadding": 1, "labelFontSize": 10, "labelOverlap": false, "title": "P", "titleAngle": 0, "titleAlign": "center", "titleBaseline": "middle", "titleX": -17, "titleY": 60, "titleFont": "DejaVu Sans Mono", "titleFontWeight": "bold", "titleFontSize": 11}}}},
   {"data": {"name": "curves"}, "transform": [{"filter": "datum.panel == 'p3'"}], "mark": {"type": "line", "color": "black", "strokeWidth": 1.8, "interpolate": "monotone"},
    "encoding": {"x": {"field": "year", "type": "quantitative", "axis": null},
     "y": {"field": "p", "type": "quantitative", "axis": {"orient": "right", "values": [0.1,0.2,0.3,0.4,0.5,0.6,0.7,0.8,0.9,1,1.1], "labels": false, "tickSize": {"condition": {"test": "datum.value == 0.5 || datum.value == 1", "value": -7}, "value": -4}, "title": null}}}},
   {"data": {"name": "dates"}, "transform": [{"filter": "datum.panel == 'p3'"}], "mark": {"type": "rule", "color": "black", "strokeWidth": 1.5},
    "encoding": {"x": {"field": "year", "type": "quantitative", "axis": null}, "y": {"datum": 0, "axis": null}, "y2": {"datum": 0.12}}},
   {"data": {"name": "groups"}, "transform": [{"filter": "datum.panel == 'p3'"}], "mark": {"type": "text", "font": "DejaVu Sans Mono", "fontWeight": "bold", "fontSize": 12, "align": "left", "baseline": "middle"},
    "encoding": {"x": {"datum": 13872, "axis": null}, "y": {"datum": 0.85, "axis": null}, "text": {"value": "N="}}},
   {"data": {"name": "groups"}, "transform": [{"filter": "datum.panel == 'p3'"}], "mark": {"type": "text", "font": "DejaVu Sans Mono", "fontWeight": "bold", "fontSize": 13, "align": "center", "baseline": "middle"},
    "encoding": {"x": {"datum": 13620, "axis": null}, "y": {"datum": 0.85, "axis": null}, "text": {"field": "n", "type": "quantitative", "format": "d"}}}
  ],
  "resolve": {"axis": {"x": "independent", "y": "independent"}}},
 {"width": 295, "height": 139.5,
  "layer": [
   {"data": {"name": "labels"}, "transform": [{"filter": "datum.panel == 'p3'"}], "mark": {"type": "text", "font": "Open Sans", "align": "left", "baseline": "alphabetic", "color": "black"},
    "encoding": {"x": {"datum": 18, "type": "quantitative", "scale": {"domain": [0, 295], "nice": false, "zero": false}, "axis": null}, "y": {"field": "kind", "type": "ordinal", "scale": {"type": "point", "domain": ["title", "subtitle"], "range": [35, 63], "padding": 0}, "axis": null}, "size": {"condition": {"test": "datum.kind == 'title'", "value": 25}, "value": 20}, "text": {"field": "text"}}},
   {"data": {"name": "stats"}, "transform": [{"filter": "datum.panel == 'p3'"}], "mark": {"type": "text", "font": "DejaVu Sans Mono", "fontWeight": "bold", "fontSize": 8.5, "align": "left", "baseline": "middle"},
    "encoding": {"x": {"datum": 11, "axis": null}, "y": {"field": "level", "type": "ordinal", "scale": {"type": "point", "domain": ["95 % Peak", "68 % Peak", "50 % Peak"], "range": [95, 123], "padding": 0}, "axis": null}, "text": {"field": "level"}}},
   {"data": {"name": "stats"}, "transform": [{"filter": "datum.panel == 'p3'"}], "mark": {"type": "text", "font": "DejaVu Sans Mono", "fontWeight": "bold", "fontSize": 8.5, "align": "right", "baseline": "middle"},
    "encoding": {"x": {"datum": 123, "axis": null}, "y": {"field": "level", "type": "ordinal", "scale": {"type": "point", "domain": ["95 % Peak", "68 % Peak", "50 % Peak"], "range": [95, 123], "padding": 0}, "axis": null}, "text": {"field": "from", "type": "quantitative", "format": "d"}}},
   {"data": {"name": "stats"}, "transform": [{"filter": "datum.panel == 'p3'"}], "mark": {"type": "text", "font": "DejaVu Sans Mono", "fontWeight": "bold", "fontSize": 8.5, "align": "left", "baseline": "middle"},
    "encoding": {"x": {"datum": 132, "axis": null}, "y": {"field": "level", "type": "ordinal", "scale": {"type": "point", "domain": ["95 % Peak", "68 % Peak", "50 % Peak"], "range": [95, 123], "padding": 0}, "axis": null}, "text": {"value": "calBC  -"}}},
   {"data": {"name": "stats"}, "transform": [{"filter": "datum.panel == 'p3'"}], "mark": {"type": "text", "font": "DejaVu Sans Mono", "fontWeight": "bold", "fontSize": 8.5, "align": "right", "baseline": "middle"},
    "encoding": {"x": {"datum": 205, "axis": null}, "y": {"field": "level", "type": "ordinal", "scale": {"type": "point", "domain": ["95 % Peak", "68 % Peak", "50 % Peak"], "range": [95, 123], "padding": 0}, "axis": null}, "text": {"field": "to", "type": "quantitative", "format": "d"}}},
   {"data": {"name": "stats"}, "transform": [{"filter": "datum.panel == 'p3'"}], "mark": {"type": "text", "font": "DejaVu Sans Mono", "fontWeight": "bold", "fontSize": 8.5, "align": "left", "baseline": "middle"},
    "encoding": {"x": {"datum": 208, "axis": null}, "y": {"field": "level", "type": "ordinal", "scale": {"type": "point", "domain": ["95 % Peak", "68 % Peak", "50 % Peak"], "range": [95, 123], "padding": 0}, "axis": null}, "text": {"value": "calBC"}}},
   {"data": {"name": "stats"}, "transform": [{"filter": "datum.panel == 'p3'"}], "mark": {"type": "text", "font": "DejaVu Sans Mono", "fontWeight": "bold", "fontSize": 8.5, "align": "right", "baseline": "middle"},
    "encoding": {"x": {"datum": 271, "axis": null}, "y": {"field": "level", "type": "ordinal", "scale": {"type": "point", "domain": ["95 % Peak", "68 % Peak", "50 % Peak"], "range": [95, 123], "padding": 0}, "axis": null}, "text": {"field": "span", "type": "quantitative", "format": "d"}}}
  ],
  "resolve": {"scale": {"y": "independent"}}},

 {"width": 705, "height": 139.5,
  "layer": [
   {"data": {"name": "curves"}, "transform": [{"filter": "datum.panel == 'p4'"}], "mark": {"type": "area", "color": "#e6e6e6", "interpolate": "monotone"},
    "encoding": {"x": {"field": "year", "type": "quantitative", "scale": {"domain": [9000, 14000], "reverse": true, "nice": false, "zero": false}, "axis": {"orient": "bottom", "tickCount": 100, "format": "d", "labelExpr": "datum.value % 500 == 0 && datum.value > 9000 && datum.value < 14000 ? datum.label : ''", "tickSize": {"condition": {"test": "datum.value % 500 == 0", "value": 6}, "value": 3}, "labelOverlap": false, "labelFlush": false, "labelBound": false, "labelPadding": -1, "labelFontSize": 11, "title": null}},
     "y": {"field": "p", "type": "quantitative", "scale": {"domain": [0, 1.182], "nice": false, "zero": false}, "axis": {"orient": "left", "values": [0.1,0.2,0.3,0.4,0.5,0.6,0.7,0.8,0.9,1,1.1], "labelExpr": "datum.value == 0.5 ? '[rel]' : ''", "tickSize": {"condition": {"test": "datum.value == 0.5 || datum.value == 1", "value": 7}, "value": 4}, "labelPadding": 1, "labelFontSize": 10, "labelOverlap": false, "title": "P", "titleAngle": 0, "titleAlign": "center", "titleBaseline": "middle", "titleX": -17, "titleY": 60, "titleFont": "DejaVu Sans Mono", "titleFontWeight": "bold", "titleFontSize": 11}}}},
   {"data": {"name": "curves"}, "transform": [{"filter": "datum.panel == 'p4'"}], "mark": {"type": "line", "color": "black", "strokeWidth": 1.8, "interpolate": "monotone"},
    "encoding": {"x": {"field": "year", "type": "quantitative", "axis": null},
     "y": {"field": "p", "type": "quantitative", "axis": {"orient": "right", "values": [0.1,0.2,0.3,0.4,0.5,0.6,0.7,0.8,0.9,1,1.1], "labels": false, "tickSize": {"condition": {"test": "datum.value == 0.5 || datum.value == 1", "value": -7}, "value": -4}, "title": null}}}},
   {"data": {"name": "dates"}, "transform": [{"filter": "datum.panel == 'p4'"}], "mark": {"type": "rule", "color": "black", "strokeWidth": 1.5},
    "encoding": {"x": {"field": "year", "type": "quantitative", "axis": null}, "y": {"datum": 0, "axis": null}, "y2": {"datum": 0.12}}},
   {"data": {"name": "groups"}, "transform": [{"filter": "datum.panel == 'p4'"}], "mark": {"type": "text", "font": "DejaVu Sans Mono", "fontWeight": "bold", "fontSize": 12, "align": "left", "baseline": "middle"},
    "encoding": {"x": {"datum": 13872, "axis": null}, "y": {"datum": 0.85, "axis": null}, "text": {"value": "N="}}},
   {"data": {"name": "groups"}, "transform": [{"filter": "datum.panel == 'p4'"}], "mark": {"type": "text", "font": "DejaVu Sans Mono", "fontWeight": "bold", "fontSize": 13, "align": "center", "baseline": "middle"},
    "encoding": {"x": {"datum": 13620, "axis": null}, "y": {"datum": 0.85, "axis": null}, "text": {"field": "n", "type": "quantitative", "format": "d"}}}
  ],
  "resolve": {"axis": {"x": "independent", "y": "independent"}}},
 {"width": 295, "height": 139.5,
  "layer": [
   {"data": {"name": "labels"}, "transform": [{"filter": "datum.panel == 'p4'"}], "mark": {"type": "text", "font": "Open Sans", "align": "left", "baseline": "alphabetic", "color": "black"},
    "encoding": {"x": {"datum": 18, "type": "quantitative", "scale": {"domain": [0, 295], "nice": false, "zero": false}, "axis": null}, "y": {"field": "kind", "type": "ordinal", "scale": {"type": "point", "domain": ["title", "subtitle"], "range": [32, 60], "padding": 0}, "axis": null}, "size": {"condition": {"test": "datum.kind == 'title'", "value": 25}, "value": 20}, "text": {"field": "text"}}},
   {"data": {"name": "stats"}, "transform": [{"filter": "datum.panel == 'p4'"}], "mark": {"type": "text", "font": "DejaVu Sans Mono", "fontWeight": "bold", "fontSize": 8.5, "align": "left", "baseline": "middle"},
    "encoding": {"x": {"datum": 11, "axis": null}, "y": {"field": "level", "type": "ordinal", "scale": {"type": "point", "domain": ["95 % Peak", "68 % Peak", "50 % Peak"], "range": [95, 123], "padding": 0}, "axis": null}, "text": {"field": "level"}}},
   {"data": {"name": "stats"}, "transform": [{"filter": "datum.panel == 'p4'"}], "mark": {"type": "text", "font": "DejaVu Sans Mono", "fontWeight": "bold", "fontSize": 8.5, "align": "right", "baseline": "middle"},
    "encoding": {"x": {"datum": 123, "axis": null}, "y": {"field": "level", "type": "ordinal", "scale": {"type": "point", "domain": ["95 % Peak", "68 % Peak", "50 % Peak"], "range": [95, 123], "padding": 0}, "axis": null}, "text": {"field": "from", "type": "quantitative", "format": "d"}}},
   {"data": {"name": "stats"}, "transform": [{"filter": "datum.panel == 'p4'"}], "mark": {"type": "text", "font": "DejaVu Sans Mono", "fontWeight": "bold", "fontSize": 8.5, "align": "left", "baseline": "middle"},
    "encoding": {"x": {"datum": 132, "axis": null}, "y": {"field": "level", "type": "ordinal", "scale": {"type": "point", "domain": ["95 % Peak", "68 % Peak", "50 % Peak"], "range": [95, 123], "padding": 0}, "axis": null}, "text": {"value": "calBC  -"}}},
   {"data": {"name": "stats"}, "transform": [{"filter": "datum.panel == 'p4'"}], "mark": {"type": "text", "font": "DejaVu Sans Mono", "fontWeight": "bold", "fontSize": 8.5, "align": "right", "baseline": "middle"},
    "encoding": {"x": {"datum": 205, "axis": null}, "y": {"field": "level", "type": "ordinal", "scale": {"type": "point", "domain": ["95 % Peak", "68 % Peak", "50 % Peak"], "range": [95, 123], "padding": 0}, "axis": null}, "text": {"field": "to", "type": "quantitative", "format": "d"}}},
   {"data": {"name": "stats"}, "transform": [{"filter": "datum.panel == 'p4'"}], "mark": {"type": "text", "font": "DejaVu Sans Mono", "fontWeight": "bold", "fontSize": 8.5, "align": "left", "baseline": "middle"},
    "encoding": {"x": {"datum": 208, "axis": null}, "y": {"field": "level", "type": "ordinal", "scale": {"type": "point", "domain": ["95 % Peak", "68 % Peak", "50 % Peak"], "range": [95, 123], "padding": 0}, "axis": null}, "text": {"value": "calBC"}}},
   {"data": {"name": "stats"}, "transform": [{"filter": "datum.panel == 'p4'"}], "mark": {"type": "text", "font": "DejaVu Sans Mono", "fontWeight": "bold", "fontSize": 8.5, "align": "right", "baseline": "middle"},
    "encoding": {"x": {"datum": 271, "axis": null}, "y": {"field": "level", "type": "ordinal", "scale": {"type": "point", "domain": ["95 % Peak", "68 % Peak", "50 % Peak"], "range": [95, 123], "padding": 0}, "axis": null}, "text": {"field": "span", "type": "quantitative", "format": "d"}}}
  ],
  "resolve": {"scale": {"y": "independent"}}},

 {"width": 705, "height": 139.5,
  "layer": [
   {"data": {"name": "curves"}, "transform": [{"filter": "datum.panel == 'p5'"}], "mark": {"type": "area", "color": "#e6e6e6", "interpolate": "monotone"},
    "encoding": {"x": {"field": "year", "type": "quantitative", "scale": {"domain": [9000, 14000], "reverse": true, "nice": false, "zero": false}, "axis": {"orient": "bottom", "tickCount": 100, "format": "d", "labelExpr": "datum.value % 500 == 0 && datum.value > 9000 && datum.value < 14000 ? datum.label : ''", "tickSize": {"condition": {"test": "datum.value % 500 == 0", "value": 6}, "value": 3}, "labelOverlap": false, "labelFlush": false, "labelBound": false, "labelPadding": -1, "labelFontSize": 11, "title": null}},
     "y": {"field": "p", "type": "quantitative", "scale": {"domain": [0, 1.182], "nice": false, "zero": false}, "axis": {"orient": "left", "values": [0.1,0.2,0.3,0.4,0.5,0.6,0.7,0.8,0.9,1,1.1], "labelExpr": "datum.value == 0.5 ? '[rel]' : ''", "tickSize": {"condition": {"test": "datum.value == 0.5 || datum.value == 1", "value": 7}, "value": 4}, "labelPadding": 1, "labelFontSize": 10, "labelOverlap": false, "title": "P", "titleAngle": 0, "titleAlign": "center", "titleBaseline": "middle", "titleX": -17, "titleY": 60, "titleFont": "DejaVu Sans Mono", "titleFontWeight": "bold", "titleFontSize": 11}}}},
   {"data": {"name": "curves"}, "transform": [{"filter": "datum.panel == 'p5'"}], "mark": {"type": "line", "color": "black", "strokeWidth": 1.8, "interpolate": "monotone"},
    "encoding": {"x": {"field": "year", "type": "quantitative", "axis": null},
     "y": {"field": "p", "type": "quantitative", "axis": {"orient": "right", "values": [0.1,0.2,0.3,0.4,0.5,0.6,0.7,0.8,0.9,1,1.1], "labels": false, "tickSize": {"condition": {"test": "datum.value == 0.5 || datum.value == 1", "value": -7}, "value": -4}, "title": null}}}},
   {"data": {"name": "dates"}, "transform": [{"filter": "datum.panel == 'p5'"}], "mark": {"type": "rule", "color": "black", "strokeWidth": 1.5},
    "encoding": {"x": {"field": "year", "type": "quantitative", "axis": null}, "y": {"datum": 0, "axis": null}, "y2": {"datum": 0.12}}},
   {"data": {"name": "groups"}, "transform": [{"filter": "datum.panel == 'p5'"}], "mark": {"type": "text", "font": "DejaVu Sans Mono", "fontWeight": "bold", "fontSize": 12, "align": "left", "baseline": "middle"},
    "encoding": {"x": {"datum": 13872, "axis": null}, "y": {"datum": 0.85, "axis": null}, "text": {"value": "N="}}},
   {"data": {"name": "groups"}, "transform": [{"filter": "datum.panel == 'p5'"}], "mark": {"type": "text", "font": "DejaVu Sans Mono", "fontWeight": "bold", "fontSize": 13, "align": "center", "baseline": "middle"},
    "encoding": {"x": {"datum": 13620, "axis": null}, "y": {"datum": 0.85, "axis": null}, "text": {"field": "n", "type": "quantitative", "format": "d"}}}
  ],
  "resolve": {"axis": {"x": "independent", "y": "independent"}}},
 {"width": 295, "height": 139.5,
  "layer": [
   {"data": {"name": "labels"}, "transform": [{"filter": "datum.panel == 'p5'"}], "mark": {"type": "text", "font": "Open Sans", "align": "left", "baseline": "alphabetic", "color": "black"},
    "encoding": {"x": {"datum": 18, "type": "quantitative", "scale": {"domain": [0, 295], "nice": false, "zero": false}, "axis": null}, "y": {"field": "kind", "type": "ordinal", "scale": {"type": "point", "domain": ["title", "subtitle"], "range": [32, 61], "padding": 0}, "axis": null}, "size": {"condition": {"test": "datum.kind == 'title'", "value": 25}, "value": 20}, "text": {"field": "text"}}},
   {"data": {"name": "stats"}, "transform": [{"filter": "datum.panel == 'p5'"}], "mark": {"type": "text", "font": "DejaVu Sans Mono", "fontWeight": "bold", "fontSize": 8.5, "align": "left", "baseline": "middle"},
    "encoding": {"x": {"datum": 11, "axis": null}, "y": {"field": "level", "type": "ordinal", "scale": {"type": "point", "domain": ["95 % Peak", "68 % Peak", "50 % Peak"], "range": [95, 123], "padding": 0}, "axis": null}, "text": {"field": "level"}}},
   {"data": {"name": "stats"}, "transform": [{"filter": "datum.panel == 'p5'"}], "mark": {"type": "text", "font": "DejaVu Sans Mono", "fontWeight": "bold", "fontSize": 8.5, "align": "right", "baseline": "middle"},
    "encoding": {"x": {"datum": 123, "axis": null}, "y": {"field": "level", "type": "ordinal", "scale": {"type": "point", "domain": ["95 % Peak", "68 % Peak", "50 % Peak"], "range": [95, 123], "padding": 0}, "axis": null}, "text": {"field": "from", "type": "quantitative", "format": "d"}}},
   {"data": {"name": "stats"}, "transform": [{"filter": "datum.panel == 'p5'"}], "mark": {"type": "text", "font": "DejaVu Sans Mono", "fontWeight": "bold", "fontSize": 8.5, "align": "left", "baseline": "middle"},
    "encoding": {"x": {"datum": 132, "axis": null}, "y": {"field": "level", "type": "ordinal", "scale": {"type": "point", "domain": ["95 % Peak", "68 % Peak", "50 % Peak"], "range": [95, 123], "padding": 0}, "axis": null}, "text": {"value": "calBC  -"}}},
   {"data": {"name": "stats"}, "transform": [{"filter": "datum.panel == 'p5'"}], "mark": {"type": "text", "font": "DejaVu Sans Mono", "fontWeight": "bold", "fontSize": 8.5, "align": "right", "baseline": "middle"},
    "encoding": {"x": {"datum": 205, "axis": null}, "y": {"field": "level", "type": "ordinal", "scale": {"type": "point", "domain": ["95 % Peak", "68 % Peak", "50 % Peak"], "range": [95, 123], "padding": 0}, "axis": null}, "text": {"field": "to", "type": "quantitative", "format": "d"}}},
   {"data": {"name": "stats"}, "transform": [{"filter": "datum.panel == 'p5'"}], "mark": {"type": "text", "font": "DejaVu Sans Mono", "fontWeight": "bold", "fontSize": 8.5, "align": "left", "baseline": "middle"},
    "encoding": {"x": {"datum": 208, "axis": null}, "y": {"field": "level", "type": "ordinal", "scale": {"type": "point", "domain": ["95 % Peak", "68 % Peak", "50 % Peak"], "range": [95, 123], "padding": 0}, "axis": null}, "text": {"value": "calBC"}}},
   {"data": {"name": "stats"}, "transform": [{"filter": "datum.panel == 'p5'"}], "mark": {"type": "text", "font": "DejaVu Sans Mono", "fontWeight": "bold", "fontSize": 8.5, "align": "right", "baseline": "middle"},
    "encoding": {"x": {"datum": 271, "axis": null}, "y": {"field": "level", "type": "ordinal", "scale": {"type": "point", "domain": ["95 % Peak", "68 % Peak", "50 % Peak"], "range": [95, 123], "padding": 0}, "axis": null}, "text": {"field": "span", "type": "quantitative", "format": "d"}}}
  ],
  "resolve": {"scale": {"y": "independent"}}},

 {"width": 705, "height": 139.5,
  "layer": [
   {"data": {"name": "curves"}, "transform": [{"filter": "datum.panel == 'p6'"}], "mark": {"type": "area", "color": "#e6e6e6", "interpolate": "monotone"},
    "encoding": {"x": {"field": "year", "type": "quantitative", "scale": {"domain": [9000, 14000], "reverse": true, "nice": false, "zero": false}, "axis": {"orient": "bottom", "tickCount": 100, "format": "d", "labelExpr": "datum.value % 500 == 0 && datum.value > 9000 && datum.value < 14000 ? datum.label : ''", "tickSize": {"condition": {"test": "datum.value % 500 == 0", "value": 6}, "value": 3}, "labelOverlap": false, "labelFlush": false, "labelBound": false, "labelPadding": -1, "labelFontSize": 11, "title": null}},
     "y": {"field": "p", "type": "quantitative", "scale": {"domain": [0, 1.182], "nice": false, "zero": false}, "axis": {"orient": "left", "values": [0.1,0.2,0.3,0.4,0.5,0.6,0.7,0.8,0.9,1,1.1], "labelExpr": "datum.value == 0.5 ? '[rel]' : ''", "tickSize": {"condition": {"test": "datum.value == 0.5 || datum.value == 1", "value": 7}, "value": 4}, "labelPadding": 1, "labelFontSize": 10, "labelOverlap": false, "title": "P", "titleAngle": 0, "titleAlign": "center", "titleBaseline": "middle", "titleX": -17, "titleY": 60, "titleFont": "DejaVu Sans Mono", "titleFontWeight": "bold", "titleFontSize": 11}}}},
   {"data": {"name": "curves"}, "transform": [{"filter": "datum.panel == 'p6'"}], "mark": {"type": "line", "color": "black", "strokeWidth": 1.8, "interpolate": "monotone"},
    "encoding": {"x": {"field": "year", "type": "quantitative", "axis": null},
     "y": {"field": "p", "type": "quantitative", "axis": {"orient": "right", "values": [0.1,0.2,0.3,0.4,0.5,0.6,0.7,0.8,0.9,1,1.1], "labels": false, "tickSize": {"condition": {"test": "datum.value == 0.5 || datum.value == 1", "value": -7}, "value": -4}, "title": null}}}},
   {"data": {"name": "dates"}, "transform": [{"filter": "datum.panel == 'p6'"}], "mark": {"type": "rule", "color": "black", "strokeWidth": 1.5},
    "encoding": {"x": {"field": "year", "type": "quantitative", "axis": null}, "y": {"datum": 0, "axis": null}, "y2": {"datum": 0.12}}},
   {"data": {"name": "groups"}, "transform": [{"filter": "datum.panel == 'p6'"}], "mark": {"type": "text", "font": "DejaVu Sans Mono", "fontWeight": "bold", "fontSize": 12, "align": "left", "baseline": "middle"},
    "encoding": {"x": {"datum": 13872, "axis": null}, "y": {"datum": 0.85, "axis": null}, "text": {"value": "N="}}},
   {"data": {"name": "groups"}, "transform": [{"filter": "datum.panel == 'p6'"}], "mark": {"type": "text", "font": "DejaVu Sans Mono", "fontWeight": "bold", "fontSize": 13, "align": "center", "baseline": "middle"},
    "encoding": {"x": {"datum": 13620, "axis": null}, "y": {"datum": 0.85, "axis": null}, "text": {"field": "n", "type": "quantitative", "format": "d"}}}
  ],
  "resolve": {"axis": {"x": "independent", "y": "independent"}}},
 {"width": 295, "height": 139.5,
  "layer": [
   {"data": {"name": "labels"}, "transform": [{"filter": "datum.panel == 'p6'"}], "mark": {"type": "text", "font": "Open Sans", "align": "left", "baseline": "alphabetic", "color": "black"},
    "encoding": {"x": {"datum": 18, "type": "quantitative", "scale": {"domain": [0, 295], "nice": false, "zero": false}, "axis": null}, "y": {"field": "kind", "type": "ordinal", "scale": {"type": "point", "domain": ["title", "subtitle"], "range": [32, 61], "padding": 0}, "axis": null}, "size": {"condition": {"test": "datum.kind == 'title'", "value": 25}, "value": 20}, "text": {"field": "text"}}},
   {"data": {"name": "stats"}, "transform": [{"filter": "datum.panel == 'p6'"}], "mark": {"type": "text", "font": "DejaVu Sans Mono", "fontWeight": "bold", "fontSize": 8.5, "align": "left", "baseline": "middle"},
    "encoding": {"x": {"datum": 11, "axis": null}, "y": {"field": "level", "type": "ordinal", "scale": {"type": "point", "domain": ["95 % Peak", "68 % Peak", "50 % Peak"], "range": [95, 123], "padding": 0}, "axis": null}, "text": {"field": "level"}}},
   {"data": {"name": "stats"}, "transform": [{"filter": "datum.panel == 'p6'"}], "mark": {"type": "text", "font": "DejaVu Sans Mono", "fontWeight": "bold", "fontSize": 8.5, "align": "right", "baseline": "middle"},
    "encoding": {"x": {"datum": 123, "axis": null}, "y": {"field": "level", "type": "ordinal", "scale": {"type": "point", "domain": ["95 % Peak", "68 % Peak", "50 % Peak"], "range": [95, 123], "padding": 0}, "axis": null}, "text": {"field": "from", "type": "quantitative", "format": "d"}}},
   {"data": {"name": "stats"}, "transform": [{"filter": "datum.panel == 'p6'"}], "mark": {"type": "text", "font": "DejaVu Sans Mono", "fontWeight": "bold", "fontSize": 8.5, "align": "left", "baseline": "middle"},
    "encoding": {"x": {"datum": 132, "axis": null}, "y": {"field": "level", "type": "ordinal", "scale": {"type": "point", "domain": ["95 % Peak", "68 % Peak", "50 % Peak"], "range": [95, 123], "padding": 0}, "axis": null}, "text": {"value": "calBC  -"}}},
   {"data": {"name": "stats"}, "transform": [{"filter": "datum.panel == 'p6'"}], "mark": {"type": "text", "font": "DejaVu Sans Mono", "fontWeight": "bold", "fontSize": 8.5, "align": "right", "baseline": "middle"},
    "encoding": {"x": {"datum": 205, "axis": null}, "y": {"field": "level", "type": "ordinal", "scale": {"type": "point", "domain": ["95 % Peak", "68 % Peak", "50 % Peak"], "range": [95, 123], "padding": 0}, "axis": null}, "text": {"field": "to", "type": "quantitative", "format": "d"}}},
   {"data": {"name": "stats"}, "transform": [{"filter": "datum.panel == 'p6'"}], "mark": {"type": "text", "font": "DejaVu Sans Mono", "fontWeight": "bold", "fontSize": 8.5, "align": "left", "baseline": "middle"},
    "encoding": {"x": {"datum": 208, "axis": null}, "y": {"field": "level", "type": "ordinal", "scale": {"type": "point", "domain": ["95 % Peak", "68 % Peak", "50 % Peak"], "range": [95, 123], "padding": 0}, "axis": null}, "text": {"value": "calBC"}}},
   {"data": {"name": "stats"}, "transform": [{"filter": "datum.panel == 'p6'"}], "mark": {"type": "text", "font": "DejaVu Sans Mono", "fontWeight": "bold", "fontSize": 8.5, "align": "right", "baseline": "middle"},
    "encoding": {"x": {"datum": 271, "axis": null}, "y": {"field": "level", "type": "ordinal", "scale": {"type": "point", "domain": ["95 % Peak", "68 % Peak", "50 % Peak"], "range": [95, 123], "padding": 0}, "axis": null}, "text": {"field": "span", "type": "quantitative", "format": "d"}}}
  ],
  "resolve": {"scale": {"y": "independent"}}},

 {"width": 705, "height": 139.5,
  "layer": [
   {"data": {"name": "curves"}, "transform": [{"filter": "datum.panel == 'p7'"}], "mark": {"type": "area", "color": "#e6e6e6", "interpolate": "monotone"},
    "encoding": {"x": {"field": "year", "type": "quantitative", "scale": {"domain": [9000, 14000], "reverse": true, "nice": false, "zero": false}, "axis": {"orient": "bottom", "tickCount": 100, "format": "d", "labelExpr": "datum.value % 500 == 0 && datum.value > 9000 && datum.value < 14000 ? datum.label : ''", "tickSize": {"condition": {"test": "datum.value % 500 == 0", "value": 6}, "value": 3}, "labelOverlap": false, "labelFlush": false, "labelBound": false, "labelPadding": -1, "labelFontSize": 11, "title": null}},
     "y": {"field": "p", "type": "quantitative", "scale": {"domain": [0, 1.182], "nice": false, "zero": false}, "axis": {"orient": "left", "values": [0.1,0.2,0.3,0.4,0.5,0.6,0.7,0.8,0.9,1,1.1], "labelExpr": "datum.value == 0.5 ? '[rel]' : ''", "tickSize": {"condition": {"test": "datum.value == 0.5 || datum.value == 1", "value": 7}, "value": 4}, "labelPadding": 1, "labelFontSize": 10, "labelOverlap": false, "title": "P", "titleAngle": 0, "titleAlign": "center", "titleBaseline": "middle", "titleX": -17, "titleY": 60, "titleFont": "DejaVu Sans Mono", "titleFontWeight": "bold", "titleFontSize": 11}}}},
   {"data": {"name": "curves"}, "transform": [{"filter": "datum.panel == 'p7'"}], "mark": {"type": "line", "color": "black", "strokeWidth": 1.8, "interpolate": "monotone"},
    "encoding": {"x": {"field": "year", "type": "quantitative", "axis": null},
     "y": {"field": "p", "type": "quantitative", "axis": {"orient": "right", "values": [0.1,0.2,0.3,0.4,0.5,0.6,0.7,0.8,0.9,1,1.1], "labels": false, "tickSize": {"condition": {"test": "datum.value == 0.5 || datum.value == 1", "value": -7}, "value": -4}, "title": null}}}},
   {"data": {"name": "dates"}, "transform": [{"filter": "datum.panel == 'p7'"}], "mark": {"type": "rule", "color": "black", "strokeWidth": 1.5},
    "encoding": {"x": {"field": "year", "type": "quantitative", "axis": null}, "y": {"datum": 0, "axis": null}, "y2": {"datum": 0.12}}},
   {"data": {"name": "groups"}, "transform": [{"filter": "datum.panel == 'p7'"}], "mark": {"type": "text", "font": "DejaVu Sans Mono", "fontWeight": "bold", "fontSize": 12, "align": "left", "baseline": "middle"},
    "encoding": {"x": {"datum": 13872, "axis": null}, "y": {"datum": 0.85, "axis": null}, "text": {"value": "N="}}},
   {"data": {"name": "groups"}, "transform": [{"filter": "datum.panel == 'p7'"}], "mark": {"type": "text", "font": "DejaVu Sans Mono", "fontWeight": "bold", "fontSize": 13, "align": "center", "baseline": "middle"},
    "encoding": {"x": {"datum": 13620, "axis": null}, "y": {"datum": 0.85, "axis": null}, "text": {"field": "n", "type": "quantitative", "format": "d"}}}
  ],
  "resolve": {"axis": {"x": "independent", "y": "independent"}}},
 {"width": 295, "height": 139.5,
  "layer": [
   {"data": {"name": "labels"}, "transform": [{"filter": "datum.panel == 'p7'"}], "mark": {"type": "text", "font": "Open Sans", "align": "left", "baseline": "alphabetic", "color": "black"},
    "encoding": {"x": {"datum": 18, "type": "quantitative", "scale": {"domain": [0, 295], "nice": false, "zero": false}, "axis": null}, "y": {"field": "kind", "type": "ordinal", "scale": {"type": "point", "domain": ["title", "subtitle"], "range": [32, 61], "padding": 0}, "axis": null}, "size": {"condition": {"test": "datum.kind == 'title'", "value": 25}, "value": 20}, "text": {"field": "text"}}},
   {"data": {"name": "stats"}, "transform": [{"filter": "datum.panel == 'p7'"}], "mark": {"type": "text", "font": "DejaVu Sans Mono", "fontWeight": "bold", "fontSize": 8.5, "align": "left", "baseline": "middle"},
    "encoding": {"x": {"datum": 11, "axis": null}, "y": {"field": "level", "type": "ordinal", "scale": {"type": "point", "domain": ["95 % Peak", "68 % Peak", "50 % Peak"], "range": [95, 123], "padding": 0}, "axis": null}, "text": {"field": "level"}}},
   {"data": {"name": "stats"}, "transform": [{"filter": "datum.panel == 'p7'"}], "mark": {"type": "text", "font": "DejaVu Sans Mono", "fontWeight": "bold", "fontSize": 8.5, "align": "right", "baseline": "middle"},
    "encoding": {"x": {"datum": 123, "axis": null}, "y": {"field": "level", "type": "ordinal", "scale": {"type": "point", "domain": ["95 % Peak", "68 % Peak", "50 % Peak"], "range": [95, 123], "padding": 0}, "axis": null}, "text": {"field": "from", "type": "quantitative", "format": "d"}}},
   {"data": {"name": "stats"}, "transform": [{"filter": "datum.panel == 'p7'"}], "mark": {"type": "text", "font": "DejaVu Sans Mono", "fontWeight": "bold", "fontSize": 8.5, "align": "left", "baseline": "middle"},
    "encoding": {"x": {"datum": 132, "axis": null}, "y": {"field": "level", "type": "ordinal", "scale": {"type": "point", "domain": ["95 % Peak", "68 % Peak", "50 % Peak"], "range": [95, 123], "padding": 0}, "axis": null}, "text": {"value": "calBC  -"}}},
   {"data": {"name": "stats"}, "transform": [{"filter": "datum.panel == 'p7'"}], "mark": {"type": "text", "font": "DejaVu Sans Mono", "fontWeight": "bold", "fontSize": 8.5, "align": "right", "baseline": "middle"},
    "encoding": {"x": {"datum": 205, "axis": null}, "y": {"field": "level", "type": "ordinal", "scale": {"type": "point", "domain": ["95 % Peak", "68 % Peak", "50 % Peak"], "range": [95, 123], "padding": 0}, "axis": null}, "text": {"field": "to", "type": "quantitative", "format": "d"}}},
   {"data": {"name": "stats"}, "transform": [{"filter": "datum.panel == 'p7'"}], "mark": {"type": "text", "font": "DejaVu Sans Mono", "fontWeight": "bold", "fontSize": 8.5, "align": "left", "baseline": "middle"},
    "encoding": {"x": {"datum": 208, "axis": null}, "y": {"field": "level", "type": "ordinal", "scale": {"type": "point", "domain": ["95 % Peak", "68 % Peak", "50 % Peak"], "range": [95, 123], "padding": 0}, "axis": null}, "text": {"value": "calBC"}}},
   {"data": {"name": "stats"}, "transform": [{"filter": "datum.panel == 'p7'"}], "mark": {"type": "text", "font": "DejaVu Sans Mono", "fontWeight": "bold", "fontSize": 8.5, "align": "right", "baseline": "middle"},
    "encoding": {"x": {"datum": 271, "axis": null}, "y": {"field": "level", "type": "ordinal", "scale": {"type": "point", "domain": ["95 % Peak", "68 % Peak", "50 % Peak"], "range": [95, 123], "padding": 0}, "axis": null}, "text": {"field": "span", "type": "quantitative", "format": "d"}}}
  ],
  "resolve": {"scale": {"y": "independent"}}},

 {"width": 705, "height": 272,
  "layer": [
   {"data": {"name": "grip"}, "mark": {"type": "line", "color": "black", "strokeWidth": 1.4},
    "encoding": {"x": {"field": "year", "type": "quantitative", "scale": {"domain": [9000, 14000], "reverse": true, "nice": false, "zero": false}, "axis": {"orient": "bottom", "tickCount": 100, "format": "d", "labelExpr": "datum.value % 500 == 0 ? datum.label : ''", "tickSize": {"condition": {"test": "datum.value % 500 == 0", "value": 6}, "value": 3}, "labelOverlap": false, "labelFlush": false, "labelBound": false, "labelPadding": -1, "labelFontSize": 11.5, "title": "[ calBC ]", "titleFont": "DejaVu Sans Mono", "titleFontWeight": "bold", "titleFontSize": 11, "titlePadding": 4}},
     "y": {"field": "d18O", "type": "quantitative", "scale": {"domain": [-46.38, -29.59], "nice": false, "zero": false}, "axis": {"orient": "right", "values": [-31.5,-32,-32.5,-33,-33.5,-34,-34.5,-35,-35.5,-36,-36.5,-37,-37.5,-38,-38.5,-39,-39.5,-40,-40.5,-41,-41.5,-42,-42.5,-43,-43.5,-44,-44.5,-45,-45.5], "labelExpr": "datum.value % 1 == 0 && datum.value <= -32 && datum.value >= -45 ? format(datum.value, 'd') : ''", "tickSize": {"condition": {"test": "datum.value % 1 == 0", "value": 5}, "value": 3}, "labelFontSize": 9, "labelPadding": 1, "labelOverlap": false, "title": null}}}},
   {"data": {"name": "grip"}, "mark": {"type": "line", "opacity": 0},
    "encoding": {"x": {"field": "year", "type": "quantitative", "axis": null},
     "y": {"field": "d18O", "type": "quantitative", "scale": {"domain": [-60.31, -44.07], "reverse": true, "nice": false, "zero": false}, "axis": {"orient": "left", "values": [-60,-59,-58,-57,-56,-55,-54,-53,-52,-51,-50,-49,-48,-47], "format": "d", "tickSize": 4, "labelPadding": 1, "labelFontSize": 11, "labelOverlap": false, "title": null}}}}
  ],
  "resolve": {"scale": {"y": "independent"}, "axis": {"x": "independent", "y": "independent"}}},
 {"width": 295, "height": 272,
  "layer": [
   {"data": {"name": "labels"}, "transform": [{"filter": "datum.kind == 'g1' || datum.kind == 'g2'"}], "mark": {"type": "text", "font": "Open Sans", "fontSize": 26, "align": "left", "baseline": "alphabetic", "color": "black"},
    "encoding": {"x": {"datum": 50, "type": "quantitative", "scale": {"domain": [0, 295], "nice": false, "zero": false}, "axis": null}, "y": {"field": "kind", "type": "ordinal", "scale": {"type": "point", "domain": ["g1", "g2"], "range": [218, 254], "padding": 0}, "axis": null}, "text": {"field": "text"}}},
   {"data": {"name": "labels"}, "transform": [{"filter": "datum.kind == 'cal1'"}], "mark": {"type": "text", "font": "DejaVu Sans Mono", "fontWeight": "bold", "fontSize": 11.5, "align": "left", "baseline": "middle", "color": "black"},
    "encoding": {"x": {"datum": 21, "axis": null}, "y": {"field": "kind", "type": "ordinal", "scale": {"type": "point", "domain": ["cal1"], "range": [288, 288], "padding": 0}, "axis": null}, "text": {"field": "text"}}},
   {"data": {"name": "labels"}, "transform": [{"filter": "datum.kind == 'cal2'"}], "mark": {"type": "text", "font": "DejaVu Sans Mono", "fontWeight": "bold", "fontSize": 11.5, "align": "left", "baseline": "middle", "color": "black"},
    "encoding": {"x": {"datum": 13, "axis": null}, "y": {"field": "kind", "type": "ordinal", "scale": {"type": "point", "domain": ["cal2"], "range": [305, 305], "padding": 0}, "axis": null}, "text": {"field": "text"}}}
  ],
  "resolve": {"scale": {"y": "independent"}}}
]
}
